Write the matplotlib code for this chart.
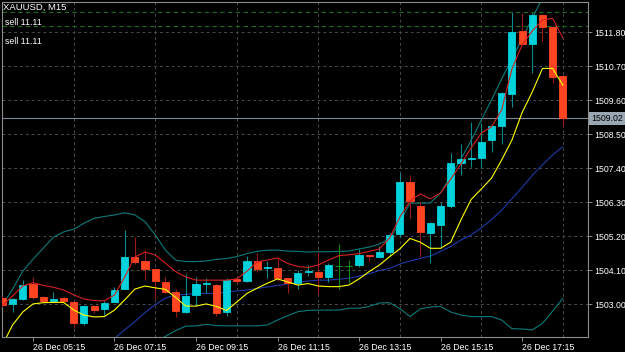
import numpy as np
import pandas as pd
import matplotlib
matplotlib.use("Agg")
import matplotlib.pyplot as plt
from matplotlib.ticker import FixedLocator

plt.rcParams['font.family'] = ['Liberation Sans', 'DejaVu Sans']

# ---------------- data ----------------
symbol_title = "XAUUSD, M15"
start_time = "2019-12-26 04:30"
bar_minutes = 15

opens = [1503.21, 1503.00, 1503.17, 1503.65, 1503.22, 1503.10, 1503.19, 1503.08, 1502.40, 1502.93,
         1502.85, 1503.07, 1503.49, 1504.54, 1504.40, 1504.13, 1503.73, 1503.41, 1502.76, 1503.30,
         1503.65, 1503.62, 1502.75, 1503.81, 1503.74, 1504.40, 1504.16, 1504.17, 1503.84, 1503.68,
         1504.04, 1504.03, 1503.87, 1504.25, 1504.25, 1504.27, 1504.58, 1504.54, 1504.70, 1505.27,
         1506.95, 1506.19, 1505.31, 1505.55, 1506.18, 1507.56, 1507.70, 1507.74, 1508.31, 1508.77,
         1509.80, 1511.84, 1511.41, 1512.36, 1511.96, 1510.39]
highs = [1503.27, 1503.21, 1503.78, 1503.87, 1503.26, 1503.40, 1503.22, 1503.10, 1502.99, 1502.96,
         1503.10, 1503.55, 1505.40, 1505.18, 1504.74, 1504.14, 1503.89, 1503.49, 1503.99, 1503.88,
         1503.86, 1503.65, 1503.84, 1503.88, 1504.56, 1504.66, 1504.40, 1504.49, 1503.86, 1504.11,
         1504.27, 1504.68, 1504.33, 1504.94, 1504.43, 1504.79, 1504.59, 1504.88, 1505.30, 1507.24,
         1507.18, 1506.34, 1505.66, 1506.32, 1507.88, 1508.18, 1508.91, 1508.87, 1508.83, 1509.87,
         1512.47, 1512.42, 1512.41, 1512.39, 1511.99, 1510.42]
lows = [1502.91, 1502.74, 1503.14, 1503.16, 1503.06, 1503.09, 1503.08, 1502.24, 1502.33, 1502.71,
        1502.65, 1503.06, 1503.48, 1504.30, 1503.78, 1503.17, 1503.36, 1502.60, 1502.71, 1502.94,
        1503.35, 1502.63, 1502.61, 1503.68, 1503.72, 1504.05, 1503.86, 1503.75, 1503.37, 1503.49,
        1503.91, 1503.32, 1503.73, 1503.48, 1503.68, 1504.21, 1504.41, 1504.53, 1504.56, 1505.19,
        1505.78, 1504.54, 1504.32, 1504.81, 1506.11, 1507.18, 1507.45, 1507.40, 1507.93, 1508.19,
        1509.39, 1511.39, 1510.47, 1511.53, 1510.17, 1508.77]
closes = [1502.97, 1503.18, 1503.63, 1503.23, 1503.10, 1503.17, 1503.09, 1502.40, 1502.95, 1502.81,
          1503.04, 1503.46, 1504.53, 1504.38, 1504.13, 1503.74, 1503.40, 1502.78, 1503.28, 1503.64,
          1503.68, 1502.72, 1503.78, 1503.74, 1504.40, 1504.14, 1504.19, 1503.86, 1503.69, 1504.01,
          1504.07, 1503.89, 1504.27, 1504.25, 1504.25, 1504.59, 1504.55, 1504.69, 1505.24, 1506.95,
          1506.35, 1505.33, 1505.62, 1506.19, 1507.56, 1507.70, 1507.73, 1508.26, 1508.77, 1509.83,
          1511.82, 1511.42, 1512.36, 1511.98, 1510.36, 1509.02]

# fast moving average (red)
ma_fast = [1502.96, 1503.27, 1503.59, 1503.70, 1503.61, 1503.55, 1503.46, 1503.30, 1503.17, 1503.12,
           1503.11, 1503.30, 1503.88, 1504.53, 1504.69, 1504.59, 1504.33, 1504.06, 1503.88, 1503.78,
           1503.78, 1503.78, 1503.78, 1503.82, 1504.07, 1504.37, 1504.43, 1504.50, 1504.32, 1504.22,
           1504.19, 1504.27, 1504.43, 1504.57, 1504.60, 1504.64, 1504.71, 1504.79, 1505.14, 1505.82,
           1506.34, 1506.57, 1506.41, 1506.60, 1507.05, 1507.54, 1508.06, 1508.54, 1508.74, 1509.29,
           1510.61, 1511.39, 1511.84, 1512.20, 1512.25, 1511.62]
# medium moving average (yellow)
ma_mid = [1501.68, 1502.33, 1502.75, 1503.01, 1503.05, 1503.06, 1503.06, 1502.81, 1502.65, 1502.59,
          1502.60, 1502.81, 1503.14, 1503.49, 1503.59, 1503.53, 1503.48, 1503.22, 1502.94, 1502.94,
          1503.01, 1502.93, 1502.80, 1503.07, 1503.35, 1503.52, 1503.68, 1503.82, 1503.72, 1503.62,
          1503.67, 1503.59, 1503.57, 1503.57, 1503.62, 1503.82, 1504.06, 1504.27, 1504.54, 1504.79,
          1505.13, 1505.01, 1504.81, 1504.81, 1505.01, 1505.73, 1506.39, 1506.73, 1507.08, 1507.67,
          1508.31, 1509.20, 1509.87, 1510.63, 1510.63, 1510.09]
# slow moving average (blue), visible from bar 11 on
ma_slow_visible = [1501.89, 1502.17, 1502.44, 1502.73, 1502.99, 1503.20, 1503.30, 1503.32, 1503.35, 1503.35,
                   1503.35, 1503.40, 1503.43, 1503.46, 1503.51, 1503.56, 1503.61, 1503.66, 1503.71, 1503.75,
                   1503.78, 1503.78, 1503.81, 1503.84, 1503.91, 1503.99, 1504.09, 1504.16, 1504.30, 1504.40,
                   1504.48, 1504.56, 1504.71, 1504.87, 1505.08, 1505.24, 1505.47, 1505.74, 1506.05, 1506.41,
                   1506.78, 1507.17, 1507.51, 1507.83, 1508.10]
# Bollinger bands (teal)
bb_upper = [1502.97, 1503.49, 1504.07, 1504.46, 1504.81, 1505.17, 1505.34, 1505.43, 1505.62, 1505.78,
            1505.84, 1505.89, 1505.96, 1505.89, 1505.67, 1505.24, 1504.75, 1504.43, 1504.38, 1504.38,
            1504.40, 1504.45, 1504.48, 1504.54, 1504.64, 1504.71, 1504.75, 1504.75, 1504.72, 1504.71,
            1504.69, 1504.70, 1504.70, 1504.71, 1504.72, 1504.79, 1504.85, 1504.95, 1505.11, 1505.66,
            1506.27, 1506.27, 1506.28, 1506.60, 1507.15, 1507.70, 1508.30, 1508.96, 1509.61, 1510.29,
            1510.94, 1511.60, 1512.26, 1512.91, 1513.49, 1513.98]
# lower band, visible from bar 15 on
bb_lower_visible = [1501.78, 1501.96, 1502.15, 1502.29, 1502.30, 1502.35, 1502.31, 1502.30, 1502.30, 1502.30,
                    1502.30, 1502.33, 1502.49, 1502.63, 1502.76, 1502.80, 1502.81, 1502.81, 1502.81, 1502.87,
                    1502.87, 1502.93, 1503.04, 1503.05, 1502.86, 1502.60, 1502.85, 1502.91, 1502.93, 1502.75,
                    1502.65, 1502.60, 1502.60, 1502.60, 1502.49, 1502.21, 1502.20, 1502.17, 1502.38, 1502.78,
                    1503.19]

sell_levels = [1512.47, 1512.00]
sell_labels = ["sell 11.11", "sell 11.11"]
price_ticks = [1503.00, 1504.10, 1505.20, 1506.30, 1507.40, 1508.50, 1509.60, 1510.70, 1511.80]
time_label_every = 8   # bars between time labels (2 h)
grid_every = 4         # bars between vertical grid lines (1 h)

# ---------------- drawing ----------------
n = len(opens)
idx = np.arange(n)
times = pd.date_range(start_time, periods=n, freq=f"{bar_minutes}min")
o = np.array(opens); h = np.array(highs); l = np.array(lows); c = np.array(closes)

ma_slow = np.full(n, np.nan); ma_slow[n - len(ma_slow_visible):] = ma_slow_visible
bb_lower = np.full(n, np.nan); bb_lower[n - len(bb_lower_visible):] = bb_lower_visible

W, H = 625, 352
fig = plt.figure(figsize=(W / 100, H / 100), dpi=100, facecolor="black")
ax = fig.add_axes([2 / W, 15 / H, 586 / W, 335 / H], facecolor="black")

BULL = "#00d2dc"
BEAR = "#ff4422"
BULL_WICK = "#0a8a8a"
BEAR_WICK = "#9a1a10"
DOJI = "#138a13"

# indicator lines
ax.plot(idx, bb_upper, color="#0b7a7a", lw=0.8, zorder=2)
ax.plot(idx, bb_lower, color="#0b7a7a", lw=0.8, zorder=2)
ax.plot(idx, ma_slow, color="#1c3aa8", lw=0.8, zorder=2)

# candles
up = c > o
dn = c < o
eq = c == o
wick_colors = np.where(up, BULL_WICK, np.where(dn, BEAR_WICK, DOJI))
ax.vlines(idx, l, h, colors=wick_colors, lw=0.8, zorder=3)
bw = 0.7
ax.bar(idx[up], (c - o)[up], bottom=o[up], width=bw, color=BULL, edgecolor=BULL, lw=0.6, zorder=4)
ax.bar(idx[dn], (o - c)[dn], bottom=c[dn], width=bw, color=BEAR, edgecolor=BEAR, lw=0.6, zorder=4)
ax.hlines(o[eq], idx[eq] - bw / 2, idx[eq] + bw / 2, colors=DOJI, lw=0.8, zorder=4)

ax.plot(idx, ma_mid, color="#ffff00", lw=0.8, zorder=5)
ax.plot(idx, ma_fast, color="#d42020", lw=0.8, zorder=5)

# sell order lines
for lev in sell_levels:
    ax.axhline(lev, color="#1d6b1d", lw=0.8, ls=(0, (4, 3)), zorder=1)

# current price line
ax.axhline(c[-1], color="#7d8894", lw=0.8, zorder=1)

# axes limits
ax.set_xlim(-0.04, 57.47)
ax.set_ylim(1501.94, 1512.78)

# grid
hour_pos = [i for i in idx if times[i].minute == 15 and (i % grid_every) == 3 % grid_every]
label_pos = [i for i in idx if times[i].minute == 15 and times[i].hour % 2 == 1]
ax.xaxis.set_major_locator(FixedLocator(label_pos))
ax.xaxis.set_minor_locator(FixedLocator(hour_pos))
ax.set_xticklabels([times[i].strftime("%d %b %H:%M") for i in label_pos])
for t in ax.get_xticklabels():
    t.set_horizontalalignment("left")

ax.yaxis.tick_right()
ax.set_yticks(price_ticks)
ax.set_yticklabels([f"{p:.2f}" for p in price_ticks])

ax.grid(which="minor", axis="x", color="#4a4a4a", lw=0.7, ls=(0, (3, 3)))
ax.grid(which="major", axis="y", color="#4a4a4a", lw=0.7, ls=(0, (3, 3)))
ax.set_axisbelow(True)

ax.tick_params(axis="x", which="major", colors="#8c8c8c", labelcolor="white", length=3, width=0.7,
               labelsize=6.3, pad=1.5)
ax.tick_params(axis="x", which="minor", length=0)
ax.tick_params(axis="y", colors="#8c8c8c", labelcolor="white", length=3, width=0.7,
               labelsize=6.3, pad=1.5)
for s in ax.spines.values():
    s.set_color("#8c8c8c")
    s.set_linewidth(0.8)

# current price label
ax.text(1.006, c[-1], f"{c[-1]:.2f}", transform=ax.get_yaxis_transform(), ha="left", va="center",
        fontsize=6.3, color="black", zorder=10, clip_on=False,
        bbox=dict(boxstyle="square,pad=0.25", facecolor="#9aa6b2", edgecolor="none"))

# texts at top left
fig.text(3 / W, 1 - 7 / H, symbol_title, color="white", fontsize=6.8, ha="left", va="center")
for k, lab in enumerate(sell_labels):
    fig.text(5 / W, 1 - (22.7 + 19 * k) / H, lab, color="white", fontsize=6.3, ha="left", va="center")

fig.savefig("out.png", dpi=100, facecolor="black")
